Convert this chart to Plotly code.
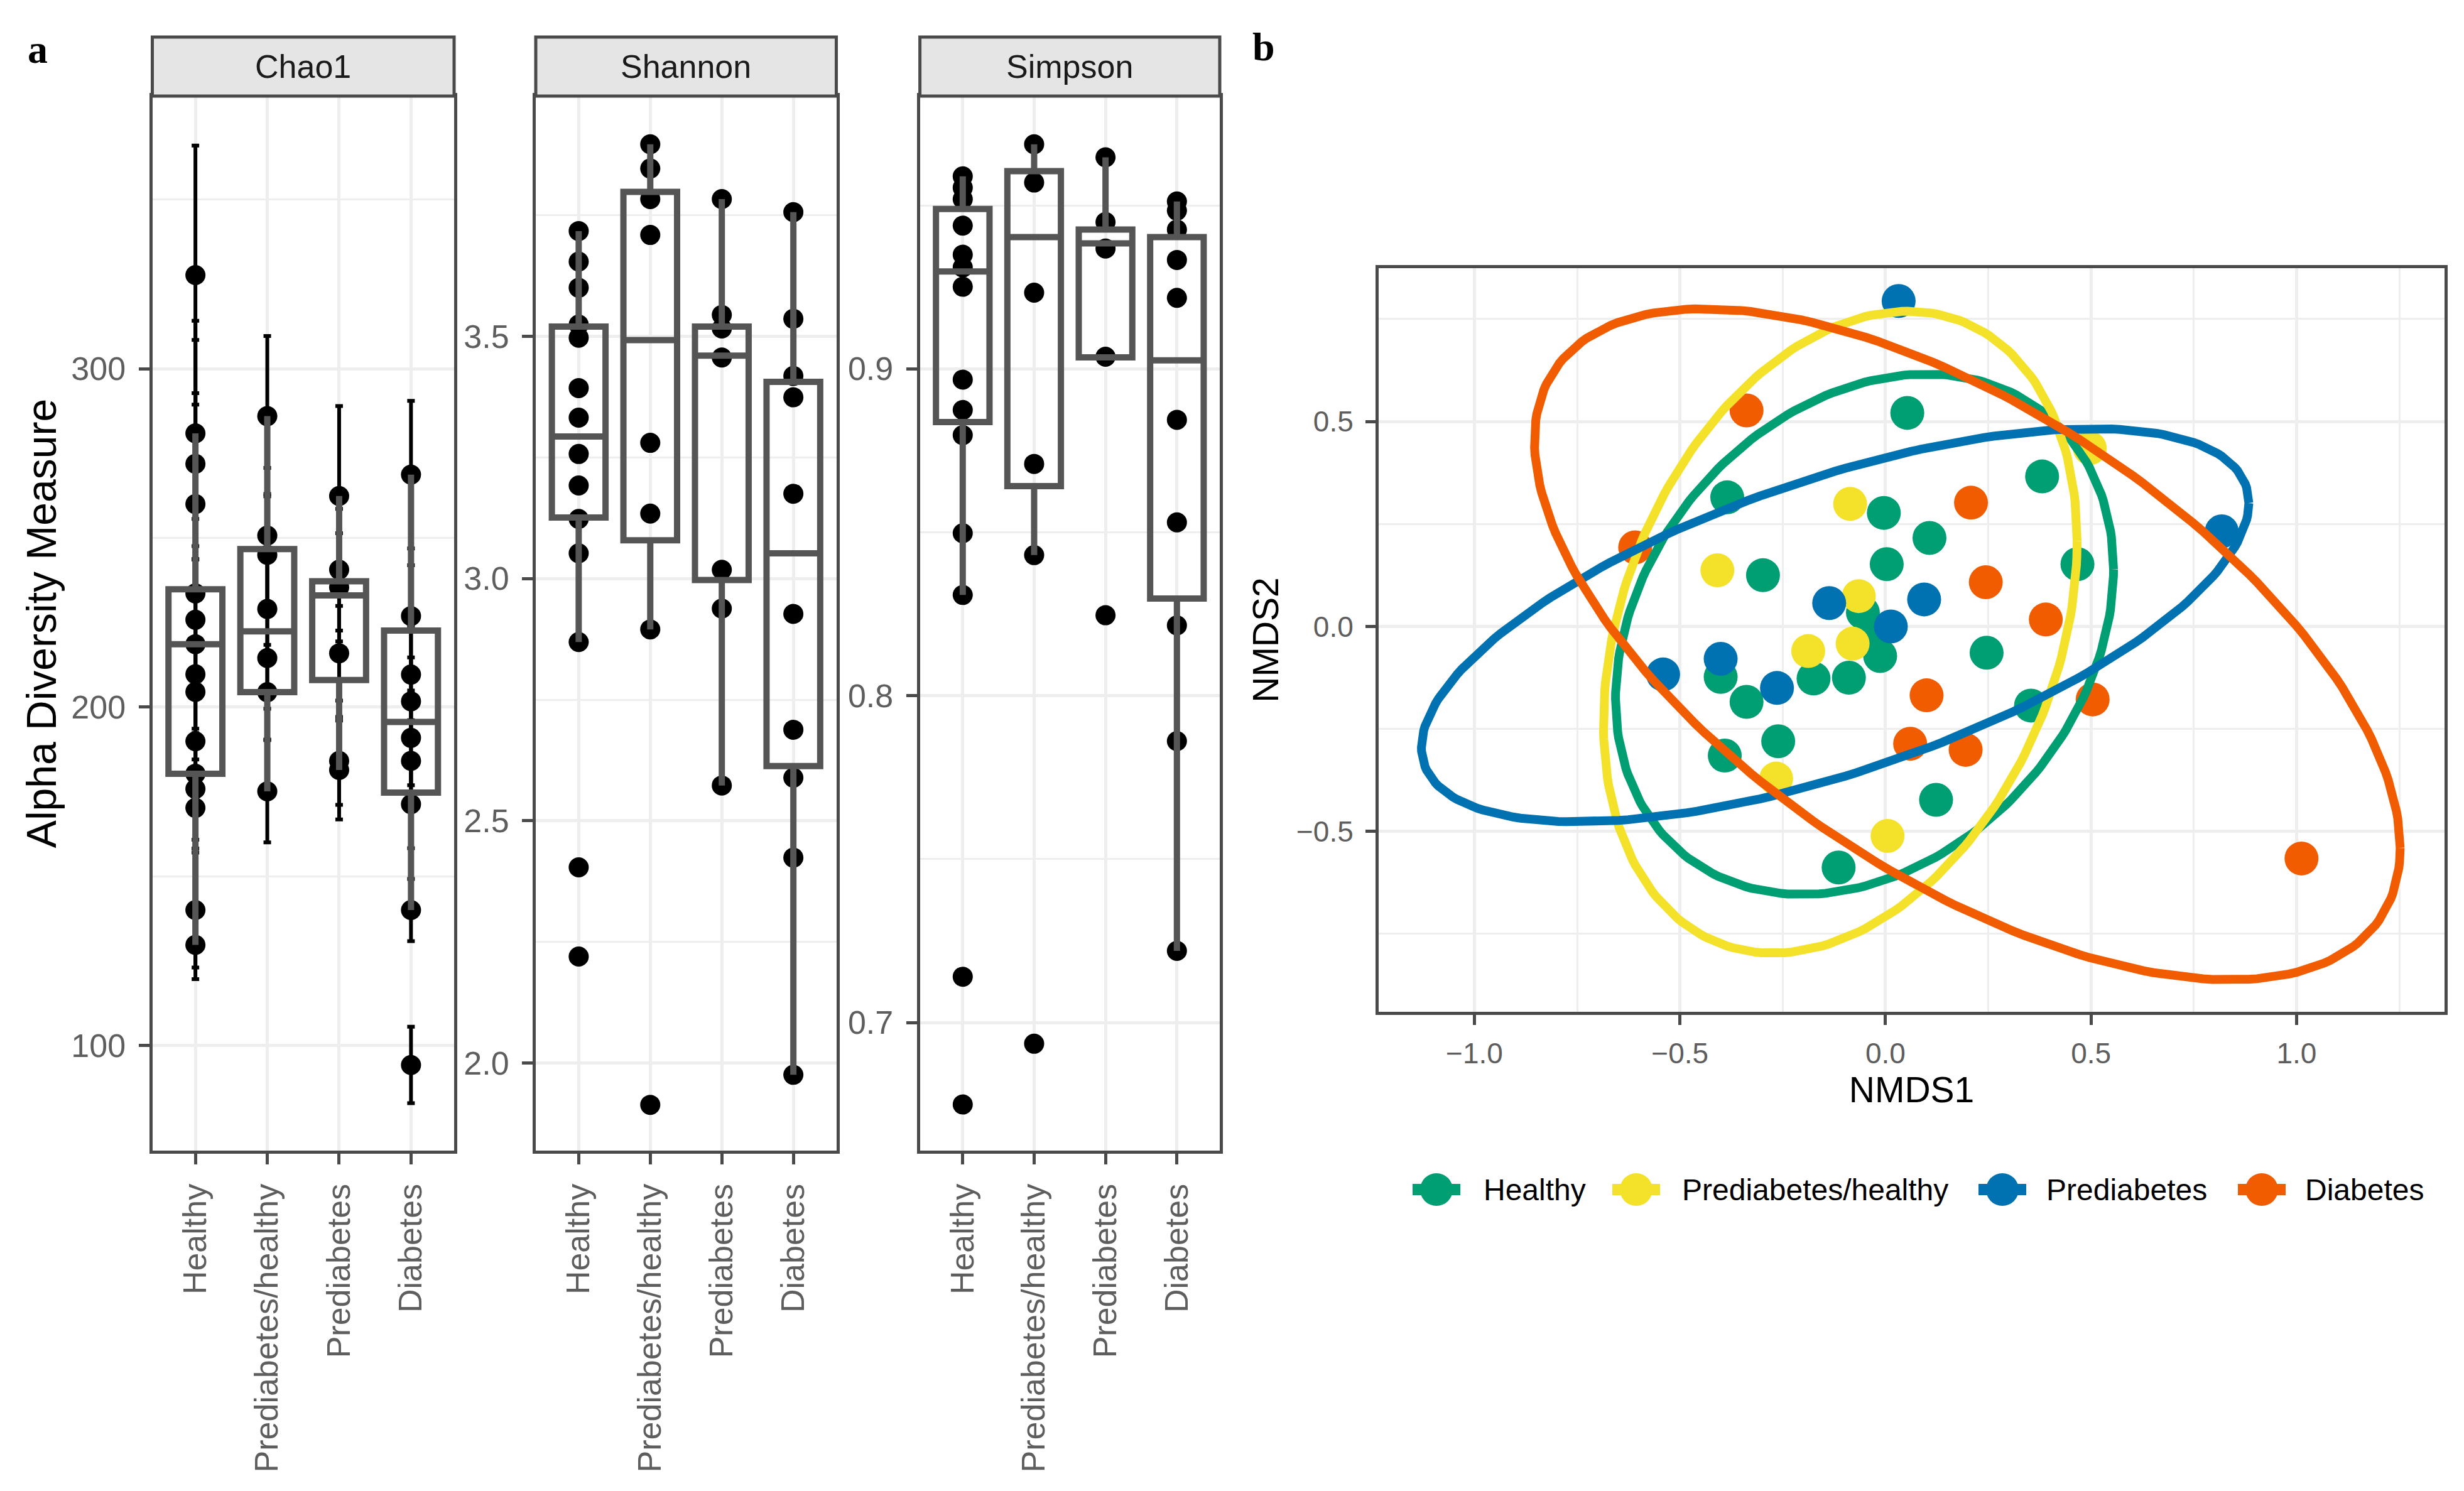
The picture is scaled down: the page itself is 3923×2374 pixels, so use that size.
import numpy as np
import plotly.graph_objects as go

# ---------------- data ----------------
groups = ["Healthy", "Prediabetes/healthy", "Prediabetes", "Diabetes"]
group_colors = ["#009E73", "#F4E22A", "#0072B2", "#F25C00"]

# Chao1 values and standard errors
chao1_healthy = [327.7, 280.9, 271.9, 260.0, 233.6, 225.8, 218.6, 209.7, 204.5, 189.9, 180.3, 175.8, 170.2, 140.0, 129.7]
chao1_healthy_se = [38.3, 33.3, 36.6, 32.8, 22.0, 18.0, 25.0, 18.0, 20.0, 17.0, 12.0, 15.0, 12.0, 17.0, 10.1]
chao1_predhealthy = [286.0, 250.7, 245.0, 229.0, 214.5, 204.4, 175.1]
chao1_predhealthy_se = [23.7, 20.0, 18.0, 16.0, 15.0, 14.0, 15.1]
chao1_pred = [262.4, 240.6, 235.4, 215.9, 184.1, 181.4]
chao1_pred_se = [26.6, 18.0, 16.0, 14.0, 13.0, 14.6]
chao1_diab = [268.7, 226.9, 209.6, 201.7, 190.9, 184.1, 171.3, 140.0, 94.2]
chao1_diab_se = [21.8, 15.0, 14.0, 13.0, 14.0, 12.0, 13.0, 9.2, 11.3]

chao1_q1 = [180.3, 204.4, 208.0, 174.7]
chao1_median = [218.6, 222.4, 233.0, 195.6]
chao1_q3 = [234.8, 246.7, 237.2, 222.6]
chao1_lower = [129.7, 175.1, 181.4, 140.0]
chao1_upper = [280.9, 286.0, 262.4, 268.7]

# Shannon
shannon_healthy = [3.717, 3.654, 3.600, 3.524, 3.497, 3.393, 3.332, 3.257, 3.192, 3.123, 3.052, 2.869, 2.404, 2.220]
shannon_predhealthy = [3.896, 3.846, 3.783, 3.709, 3.280, 3.134, 2.895, 1.914]
shannon_pred = [3.783, 3.544, 3.516, 3.456, 3.018, 2.938, 2.573]
shannon_diab = [3.756, 3.536, 3.418, 3.374, 3.175, 2.927, 2.688, 2.589, 2.424, 1.976]

shannon_q1 = [3.126, 3.079, 2.997, 2.613]
shannon_median = [3.293, 3.492, 3.460, 3.052]
shannon_q3 = [3.520, 3.798, 3.520, 3.406]
shannon_lower = [2.869, 2.895, 2.573, 1.976]
shannon_upper = [3.717, 3.896, 3.783, 3.756]

# Simpson
simpson_healthy = [0.9589, 0.9554, 0.9519, 0.9438, 0.9349, 0.9310, 0.9251, 0.8967, 0.8874, 0.8797, 0.8497, 0.8308, 0.7140, 0.6749]
simpson_predhealthy = [0.9687, 0.9570, 0.9233, 0.8709, 0.8430, 0.6935]
simpson_pred = [0.9647, 0.9449, 0.9368, 0.9037, 0.8246]
simpson_diab = [0.9512, 0.9484, 0.9426, 0.9333, 0.9217, 0.8844, 0.8530, 0.8215, 0.7861, 0.7219]

simpson_q1 = [0.8837, 0.8641, 0.9035, 0.8297]
simpson_median = [0.9298, 0.9403, 0.9384, 0.9026]
simpson_q3 = [0.9489, 0.9605, 0.9426, 0.9403]
simpson_lower = [0.8308, 0.8430, 0.9035, 0.7219]
simpson_upper = [0.9589, 0.9687, 0.9647, 0.9512]

# NMDS coordinates
nmds1_healthy = [0.053, -0.385, -0.004, 0.107, 0.003, -0.298, 0.381, 0.467, -0.055, -0.036, -0.013, 0.246, -0.089, -0.175, -0.401, -0.338, -0.261, -0.391, 0.354, 0.123, -0.114]
nmds2_healthy = [0.521, 0.315, 0.277, 0.216, 0.152, 0.125, 0.366, 0.152, 0.034, -0.028, -0.072, -0.064, -0.125, -0.127, -0.123, -0.184, -0.280, -0.315, -0.193, -0.423, -0.588]
nmds1_predhealthy = [-0.086, -0.409, -0.065, -0.080, -0.188, -0.266, 0.005, 0.497]
nmds2_predhealthy = [0.299, 0.137, 0.074, -0.042, -0.060, -0.371, -0.511, 0.435]
nmds1_pred = [0.032, -0.137, 0.094, 0.013, -0.401, -0.541, -0.264, 0.818]
nmds2_pred = [0.794, 0.057, 0.066, 0.000, -0.079, -0.117, -0.150, 0.232]
nmds1_diab = [-0.338, -0.609, 0.208, 0.244, 0.390, 0.100, 0.504, 0.060, 0.195, 1.012]
nmds2_diab = [0.527, 0.193, 0.302, 0.108, 0.017, -0.168, -0.178, -0.286, -0.301, -0.566]

# 95% ellipse shape (center and covariance-like matrix) per group
ellipse_cx = [-0.051, -0.110, -0.1225, 0.199]
ellipse_cy = [-0.019, -0.014, 0.003, -0.0435]
ellipse_vx = [0.367, 0.332, 1.013, 1.109]
ellipse_vy = [0.403, 0.613, 0.230, 0.670]
ellipse_cxy = [0.0959, 0.128, 0.300, -0.523]

# ---------------- figure ----------------
W, H = 3923, 2374
FONT = "Liberation Sans, Arial, Helvetica, sans-serif"
BORDER = "#4A4A4A"
GRID = "#EEEEEE"
TICKCOL = "#5E5E5E"

def px(x):
    return x / W

def py(y):
    return 1 - y / H

fig = go.Figure()

panel_y = [py(1824), py(145)]
panel_x = {
    "Chao1": [px(234.5), px(715)],
    "Shannon": [px(845), px(1323.5)],
    "Simpson": [px(1456.6), px(1934)],
}
yranges = {"Chao1": [68.9, 380.6], "Shannon": [1.8196, 3.9955], "Simpson": [0.6608, 0.98344]}

panels = [
    ("Chao1", "", [chao1_healthy, chao1_predhealthy, chao1_pred, chao1_diab],
     [chao1_healthy_se, chao1_predhealthy_se, chao1_pred_se, chao1_diab_se],
     (chao1_q1, chao1_median, chao1_q3, chao1_lower, chao1_upper)),
    ("Shannon", "2", [shannon_healthy, shannon_predhealthy, shannon_pred, shannon_diab], None,
     (shannon_q1, shannon_median, shannon_q3, shannon_lower, shannon_upper)),
    ("Simpson", "3", [simpson_healthy, simpson_predhealthy, simpson_pred, simpson_diab], None,
     (simpson_q1, simpson_median, simpson_q3, simpson_lower, simpson_upper)),
]
overlay_ids = {"Chao1": "5", "Shannon": "6", "Simpson": "7"}

for name, aid, vals, ses, stats in panels:
    xs = [g for g, v in zip(groups, vals) for _ in v]
    ys = [y for v in vals for y in v]
    tr = dict(x=xs, y=ys, mode="markers", marker=dict(color="black", size=32),
              xaxis="x" + aid, yaxis="y" + aid, showlegend=False, cliponaxis=False)
    if ses is not None:
        es = [s for v in ses for s in v]
        tr["error_y"] = dict(type="data", array=es, color="black", thickness=6, width=6)
    fig.add_trace(go.Scatter(**tr))
    oid = overlay_ids[name]
    q1, med, q3, lo, up = stats
    fig.add_trace(go.Box(x=groups, q1=q1, median=med, q3=q3, lowerfence=lo, upperfence=up,
                         xaxis="x" + oid, yaxis="y" + oid, boxpoints=False, width=0.75,
                         whiskerwidth=0, fillcolor="rgba(0,0,0,0)",
                         line=dict(color="#555555", width=10), showlegend=False))

# NMDS points
nmds_x = [nmds1_healthy, nmds1_predhealthy, nmds1_pred, nmds1_diab]
nmds_y = [nmds2_healthy, nmds2_predhealthy, nmds2_pred, nmds2_diab]
for g, c, xv, yv in zip(groups, group_colors, nmds_x, nmds_y):
    fig.add_trace(go.Scatter(x=xv, y=yv, mode="markers", marker=dict(color=c, size=54),
                             xaxis="x4", yaxis="y4", name=g, showlegend=False))
# NMDS ellipses
t = np.linspace(0, 2 * np.pi, 241)
for g, c, cx, cy, vx, vy, cxy in zip(groups, group_colors, ellipse_cx, ellipse_cy,
                                     ellipse_vx, ellipse_vy, ellipse_cxy):
    L = np.linalg.cholesky(np.array([[vx, cxy], [cxy, vy]]))
    pts = L @ np.vstack([np.cos(t), np.sin(t)])
    fig.add_trace(go.Scatter(x=cx + pts[0], y=cy + pts[1], mode="lines",
                             line=dict(color=c, width=14), xaxis="x4", yaxis="y4",
                             showlegend=False, hoverinfo="skip"))

# manual legend (large keys like ggplot)
legend_key_x = [2279, 2597, 3180, 3593]
legend_text_x = [2352, 2668, 3248, 3660]
for g, c, kx in zip(groups, group_colors, legend_key_x):
    fig.add_trace(go.Scatter(x=[kx - 38, kx + 38], y=[0, 0], mode="lines",
                             line=dict(color=c, width=18), xaxis="x8", yaxis="y8",
                             showlegend=False, hoverinfo="skip"))
    fig.add_trace(go.Scatter(x=[kx], y=[0], mode="markers", marker=dict(color=c, size=52),
                             xaxis="x8", yaxis="y8", showlegend=False, hoverinfo="skip"))

annotations = []
shapes = []

def cat_axis(domain):
    return dict(domain=domain, type="category", categoryorder="array", categoryarray=groups,
                range=[-0.6, 3.6], tickangle=-90, ticks="outside", ticklen=17, tickwidth=5,
                tickcolor=BORDER, tickfont=dict(size=52, color=TICKCOL, family=FONT),
                showgrid=True, gridcolor=GRID, gridwidth=5, showline=True, mirror=True,
                linecolor=BORDER, linewidth=5, zeroline=False, ticklabelstandoff=10)

def val_axis(domain, rng, dtick, mdtick, fmt, anchor):
    return dict(domain=domain, range=rng, tick0=0, dtick=dtick, tickformat=fmt, ticks="outside",
                ticklen=17, tickwidth=5, tickcolor=BORDER,
                tickfont=dict(size=52, color=TICKCOL, family=FONT),
                showgrid=True, gridcolor=GRID, gridwidth=5, zeroline=False,
                minor=dict(tick0=0, dtick=mdtick, showgrid=True, gridcolor=GRID, gridwidth=2.5),
                showline=True, mirror=True, linecolor=BORDER, linewidth=5, anchor=anchor,
                ticklabelstandoff=10)

layout_axes = {}
specs = [("Chao1", "", 100, 50, "d"), ("Shannon", "2", 0.5, 0.25, ".1f"), ("Simpson", "3", 0.1, 0.05, ".1f")]
for name, aid, dt, mdt, fmt in specs:
    xa = cat_axis(panel_x[name])
    xa["anchor"] = "y" + aid
    ya = val_axis(panel_y, yranges[name], dt, mdt, fmt, "x" + aid)
    layout_axes["xaxis" + aid] = xa
    layout_axes["yaxis" + aid] = ya
    oid = overlay_ids[name]
    layout_axes["xaxis" + oid] = dict(domain=panel_x[name], type="category", categoryorder="array",
                                      categoryarray=groups, range=[-0.6, 3.6], overlaying="x" + aid,
                                      visible=False, anchor="y" + oid)
    layout_axes["yaxis" + oid] = dict(domain=panel_y, range=yranges[name], overlaying="y" + aid,
                                      visible=False, anchor="x" + oid)
    # facet strip
    x0, x1 = panel_x[name]
    shapes.append(dict(type="rect", xref="paper", yref="paper", x0=x0, x1=x1,
                       y0=py(145), y1=py(51), fillcolor="#E5E5E5",
                       line=dict(color=BORDER, width=5), layer="above"))
    annotations.append(dict(text=name, xref="paper", yref="paper", x=(x0 + x1) / 2, y=py(98),
                            showarrow=False, xanchor="center", yanchor="middle",
                            font=dict(size=52, color="#1A1A1A", family=FONT)))

layout_axes["yaxis"]["title"] = dict(text="Alpha Diversity Measure", standoff=4,
                                     font=dict(size=66, color="black", family=FONT))

# NMDS axes
layout_axes["xaxis4"] = dict(domain=[px(2187), px(3884)], range=[-1.233, 1.360], tick0=0, dtick=0.5,
                             tickformat=".1f", ticks="outside", ticklen=16, tickwidth=5,
                             tickcolor=BORDER, tickfont=dict(size=46, color=TICKCOL, family=FONT),
                             showgrid=True, gridcolor=GRID, gridwidth=5, zeroline=False,
                             minor=dict(tick0=0, dtick=0.25, showgrid=True, gridcolor=GRID, gridwidth=2.5),
                             showline=True, mirror=True, linecolor=BORDER, linewidth=5, anchor="y4",
                             ticklabelstandoff=6,
                             title=dict(text="NMDS1", standoff=12, font=dict(size=57, color="black", family=FONT)))
layout_axes["yaxis4"] = dict(domain=[py(1603), py(419)], range=[-0.940, 0.874], tick0=0, dtick=0.5,
                             tickformat=".1f", ticks="outside", ticklen=16, tickwidth=5,
                             tickcolor=BORDER, tickfont=dict(size=46, color=TICKCOL, family=FONT),
                             showgrid=True, gridcolor=GRID, gridwidth=5, zeroline=False,
                             minor=dict(tick0=0, dtick=0.25, showgrid=True, gridcolor=GRID, gridwidth=2.5),
                             showline=True, mirror=True, linecolor=BORDER, linewidth=5, anchor="x4",
                             ticklabelstandoff=10,
                             title=dict(text="NMDS2", standoff=12, font=dict(size=57, color="black", family=FONT)))
# legend axes
layout_axes["xaxis8"] = dict(domain=[px(2200), 1.0], range=[2200, 3923], visible=False, anchor="y8")
layout_axes["yaxis8"] = dict(domain=[py(1940), py(1832)], range=[-1, 1], visible=False, anchor="x8")

for g, tx in zip(groups, legend_text_x):
    annotations.append(dict(text=g, xref="x8", yref="y8", x=tx, y=0, showarrow=False,
                            xanchor="left", yanchor="middle",
                            font=dict(size=48, color="black", family=FONT)))

# panel letters
annotations.append(dict(text="<b>a</b>", xref="paper", yref="paper", x=px(52), y=py(70),
                        showarrow=False, xanchor="center", yanchor="middle",
                        font=dict(size=64, color="black", family="Liberation Serif, Times New Roman, serif")))
annotations.append(dict(text="<b>b</b>", xref="paper", yref="paper", x=px(2004), y=py(66),
                        showarrow=False, xanchor="center", yanchor="middle",
                        font=dict(size=64, color="black", family="Liberation Serif, Times New Roman, serif")))

fig.update_layout(width=W, height=H, autosize=False, margin=dict(l=0, r=0, t=0, b=0),
                  paper_bgcolor="white", plot_bgcolor="white", showlegend=False,
                  font=dict(family=FONT), annotations=annotations, shapes=shapes, **layout_axes)

fig.write_html("out.html")
